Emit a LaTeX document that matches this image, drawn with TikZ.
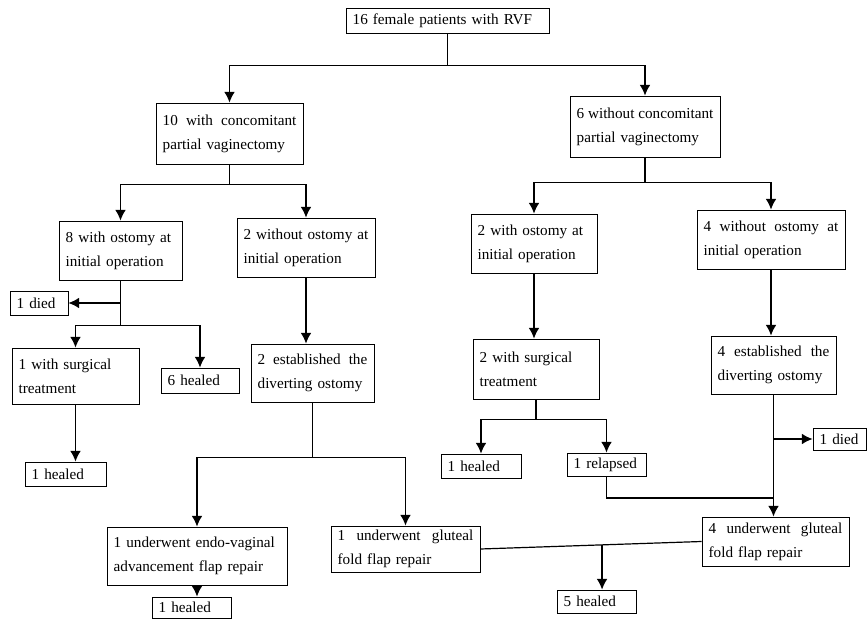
\documentclass[tikz,border=0pt]{standalone}
\usepackage{fontspec}
\setmainfont{Liberation Serif}
\usetikzlibrary{calc,arrows.meta}
\newcommand{\sline}[1]{{\spaceskip=0.25em plus 1fil\makebox[\hsize][s]{#1}}}

\begin{document}
\begin{tikzpicture}[>={Latex[length=8pt,width=8pt]},x=0.75pt,y=-0.75pt,
    box/.style={draw,line width=0.65pt,inner xsep=5pt,inner ysep=0pt,align=left,
        font=\fontsize{11.4}{18}\selectfont},
    link/.style={line width=0.9pt}]
    \useasboundingbox (0,0) rectangle (868,620);
    % boxes: name/left/top/right/bottom/text
    \foreach \n/\xa/\ya/\xb/\yb/\t in {
        all/346/8/549/33/{16 female patients with RVF},
        conc/156/103/303/164/{\sline{10 with concomitant}\\partial vaginectomy},
        noconc/570/96/720/157/{\sline{6 without concomitant}\\partial vaginectomy},
        ost8/59/221/182/280/{8 with ostomy at\\initial operation},
        noost2/237/218/375/277/{\sline{2 without ostomy at}\\initial operation},
        ost2/471/214/597/273/{2 with ostomy at\\initial operation},
        noost4/697/210/845/269/{\sline{4 without ostomy at}\\initial operation},
        died1/10/291/68/315/{1 died},
        surg1/12/348/139/404/{1 with surgical\\treatment},
        healed6/161/368/239/393/{6 healed},
        div2/251/344/374/402/{\sline{2 established the}\\diverting ostomy},
        surg2/473/339/599/399/{2 with surgical\\treatment},
        div4/711/336/836/394/{\sline{4 established the}\\diverting ostomy},
        healed1a/25/462/106/486/{1 healed},
        healed1c/441/454/521/478/{1 healed},
        relapsed/567/453/646/476/{1 relapsed},
        died2/813/428/866/450/{1 died},
        endo/107/527/287/585/{1 underwent endo-vaginal\\advancement flap repair},
        glut1/331/526/480/572/{\sline{1 underwent gluteal}\\fold flap repair},
        glut4/702/517/849/566/{\sline{4 underwent gluteal}\\fold flap repair},
        healed1b/152/597/231/618/{1 healed},
        healed5/557/590/636/613/{5 healed}}
    {
        \pgfmathsetmacro\tw{(\xb-\xa)*0.75-10}
        \node[box,minimum width={(\xb-\xa)*0.75pt},minimum height={(\yb-\ya)*0.75pt},
            text width=\tw pt] (\n) at ({(\xa+\xb)/2},{(\ya+\yb)/2}) {\t};
    }
    % first split
    \draw[link,->] (all.south) -- ++(0,32) -| (conc.north);
    \draw[link,->] (all.south) ++(0,32) -| (noconc.north);
    % left branch
    \draw[link,->] (conc.south) -- ++(0,20) -| (ost8.north);
    \draw[link,->] (conc.south) ++(0,20) -| (noost2.north);
    \draw[link,->] (ost8.south |- died1.east) -- (died1.east);
    \draw[link,->] (ost8.south) -- ++(0,45) -| (surg1.north);
    \draw[link,->] (ost8.south) ++(0,45) -| (healed6.north);
    \draw[link,->] (surg1.south) -- (surg1.south |- healed1a.north);
    \draw[link,->] (noost2.south) -- (noost2.south |- div2.north);
    \draw[link,->] (div2.south) -- ++(0,55) -| (endo.north);
    \draw[link,->] (div2.south) ++(0,55) -| (glut1.north);
    \draw[link,->] (endo.south) -- (endo.south |- healed1b.north);
    % right branch
    \draw[link,->] (noconc.south) -- ++(0,25) -| (ost2.north);
    \draw[link,->] (noconc.south) ++(0,25) -| (noost4.north);
    \draw[link,->] (ost2.south) -- (ost2.south |- surg2.north);
    \draw[link,->] (surg2.south) -- ++(0,20) -| (healed1c.north);
    \draw[link,->] (surg2.south) ++(0,20) -| (relapsed.north);
    \draw[link,->] (noost4.south) -- (noost4.south |- div4.north);
    \draw[link,->] (div4.south) -- (div4.south |- glut4.north);
    \draw[link,->] (div4.south |- died2.west) -- (died2.west);
    \coordinate (merge) at (div4.south |- 0,498);
    \draw[link] (relapsed.south) |- (merge);
    % flap repairs
    \draw[link] (glut1.east) -- (glut4.west);
    \coordinate (mid) at ($(glut1.east)!0.55!(glut4.west)$);
    \draw[link,->] (mid) -- (mid |- healed5.north);
\end{tikzpicture}
\end{document}
